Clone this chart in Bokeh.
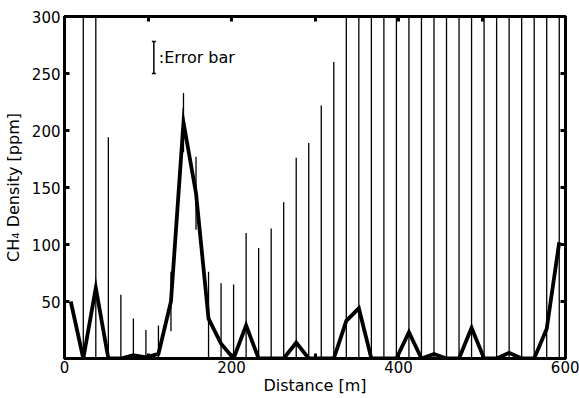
from bokeh.plotting import figure
from bokeh.models import (LinearAxis, FixedTicker, Label, Whisker, TeeHead,
                          ColumnDataSource, Range1d, CustomLabelingPolicy)
from bokeh.embed import file_html
from bokeh.resources import INLINE

# ---- data ----
distance = [7.5, 22.5, 37.5, 52.5, 67.5, 82.5, 97.5, 112.5, 127.5, 142.5,
            157.5, 172.5, 187.5, 202.5, 217.5, 232.5, 247.5, 262.5, 277.5, 292.5,
            307.5, 322.5, 337.5, 352.5, 367.5, 382.5, 397.5, 412.5, 427.5, 442.5,
            457.5, 472.5, 487.5, 502.5, 517.5, 532.5, 547.5, 562.5, 577.5, 592.5]
density = [50, 0, 62, 0, 0, 3, 1, 4, 50, 207,
           145, 35, 13, 0, 29, 0, 0, 0, 14, 0,
           0, 0, 33, 44, 0, 0, 0, 23, 0, 4,
           0, 0, 27, 0, 0, 5, 0, 0, 26, 102]
error = [0, 380, 340, 194, 56, 32, 24, 25, 26, 26,
         32, 41, 53, 65, 81, 97, 114, 137, 162, 189,
         222, 260, 330, 340, 350, 350, 360, 360, 360, 360,
         360, 360, 360, 360, 360, 360, 360, 360, 360, 360]

x_ticks = [0, 200, 400, 600]
x_minor_ticks = [100, 300, 500]
y_ticks = [0, 50, 100, 150, 200, 250, 300]

legend_base = [107]
legend_lower = [250]
legend_upper = [278]
legend_text = ":Error bar"

FONT = "DejaVu Sans"

lower = [d - e for d, e in zip(density, error)]
upper = [d + e for d, e in zip(density, error)]
src = ColumnDataSource(dict(x=distance, y=density, lo=lower, hi=upper))

p = figure(width=579, height=398, output_backend="svg", toolbar_location=None,
           x_range=Range1d(0, 600), y_range=Range1d(0, 300),
           min_border_left=63, min_border_right=14, min_border_top=16,
           min_border_bottom=40, background_fill_color="white",
           border_fill_color="white")
p.grid.visible = False
p.outline_line_color = "black"
p.outline_line_width = 3
p.outline_line_alpha = 1.0

# error bars
p.segment(x0="x", y0="lo", x1="x", y1="hi", source=src,
          line_color="black", line_width=1.3)
# density line
p.line("x", "y", source=src, line_color="black", line_width=3.8,
       line_join="miter")

# legend-like annotation
lsrc = ColumnDataSource(dict(base=legend_base, lower=legend_lower, upper=legend_upper))
p.add_layout(Whisker(source=lsrc, base="base", lower="lower", upper="upper",
                     dimension="height", line_width=1.5, line_color="black",
                     upper_head=TeeHead(size=4, line_width=1.5),
                     lower_head=TeeHead(size=4, line_width=1.5)))
p.add_layout(Label(x=legend_base[0] + 6, y=(legend_lower[0] + legend_upper[0]) / 2,
                   text=legend_text, text_baseline="middle",
                   text_font=FONT, text_font_size="16px", text_color="black"))

xt = FixedTicker(ticks=x_ticks, minor_ticks=x_minor_ticks)
yt = FixedTicker(ticks=y_ticks)


def style(ax):
    ax.axis_line_color = "black"
    ax.axis_line_width = 3
    ax.major_tick_in = 5
    ax.major_tick_out = 0
    ax.major_tick_line_width = 3
    ax.minor_tick_in = 5
    ax.minor_tick_out = 0
    ax.minor_tick_line_width = 3
    ax.major_label_text_font = FONT
    ax.major_label_text_font_size = "15px"
    ax.major_label_text_color = "black"
    ax.axis_label_text_font = FONT
    ax.axis_label_text_font_size = "16px"
    ax.axis_label_text_font_style = "normal"
    ax.axis_label_text_color = "black"


p.xaxis.ticker = xt
p.yaxis.ticker = yt
style(p.xaxis[0])
style(p.yaxis[0])
p.xaxis.axis_label = "Distance [m]"
p.yaxis.axis_label = "CH\u2084 Density [ppm]"
p.xaxis.major_label_standoff = 2
p.yaxis.major_label_standoff = 4
p.xaxis.axis_label_standoff = 0
p.yaxis.axis_label_standoff = 6
# the reference shows a single shared "0" at the corner (the x-axis one)
p.yaxis.major_label_policy = CustomLabelingPolicy(code="""
const r = new Set()
for (const i of indices) { if (i > 0) r.add(i) }
return r
""")

no_labels = CustomLabelingPolicy(code="return new Set()")
top = LinearAxis(ticker=xt, major_label_policy=no_labels, major_label_standoff=0,
                 major_label_overrides={t: "" for t in x_ticks})
style(top)
p.add_layout(top, "above")
right = LinearAxis(ticker=yt, major_label_policy=no_labels, major_label_standoff=0,
                   major_label_overrides={t: "" for t in y_ticks})
style(right)
p.add_layout(right, "right")

open("out.html", "w").write(file_html(p, INLINE))
